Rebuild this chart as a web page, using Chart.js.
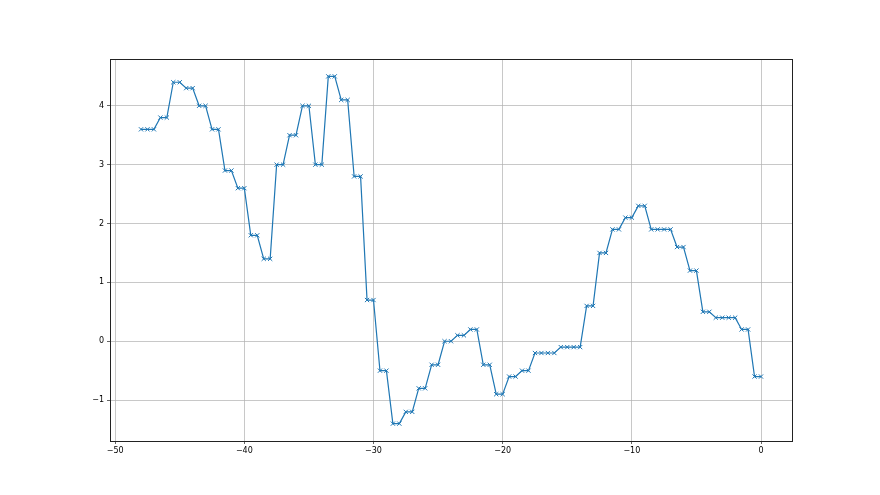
<!DOCTYPE html>
<html>
<head>
<meta charset="utf-8">
<script src="https://cdn.jsdelivr.net/npm/chart.js@4.4.0/dist/chart.umd.min.js"></script>
<style>
html,body{margin:0;padding:0;background:#fff;}
#wrap{width:880px;height:495px;position:relative;}
</style>
</head>
<body>
<div id="wrap"><canvas id="c" width="880" height="495"></canvas></div>
<script>
const xValues = [-48,-47.5,-47,-46.5,-46,-45.5,-45,-44.5,-44,-43.5,-43,-42.5,-42,-41.5,-41,-40.5,-40,-39.5,-39,-38.5,-38,-37.5,-37,-36.5,-36,-35.5,-35,-34.5,-34,-33.5,-33,-32.5,-32,-31.5,-31,-30.5,-30,-29.5,-29,-28.5,-28,-27.5,-27,-26.5,-26,-25.5,-25,-24.5,-24,-23.5,-23,-22.5,-22,-21.5,-21,-20.5,-20,-19.5,-19,-18.5,-18,-17.5,-17,-16.5,-16,-15.5,-15,-14.5,-14,-13.5,-13,-12.5,-12,-11.5,-11,-10.5,-10,-9.5,-9,-8.5,-8,-7.5,-7,-6.5,-6,-5.5,-5,-4.5,-4,-3.5,-3,-2.5,-2,-1.5,-1,-0.5,0];
const yValues = [3.6,3.6,3.6,3.8,3.8,4.4,4.4,4.3,4.3,4.0,4.0,3.6,3.6,2.9,2.9,2.6,2.6,1.8,1.8,1.4,1.4,3.0,3.0,3.5,3.5,4.0,4.0,3.0,3.0,4.5,4.5,4.1,4.1,2.8,2.8,0.7,0.7,-0.5,-0.5,-1.4,-1.4,-1.2,-1.2,-0.8,-0.8,-0.4,-0.4,0.0,0.0,0.1,0.1,0.2,0.2,-0.4,-0.4,-0.9,-0.9,-0.6,-0.6,-0.5,-0.5,-0.2,-0.2,-0.2,-0.2,-0.1,-0.1,-0.1,-0.1,0.6,0.6,1.5,1.5,1.9,1.9,2.1,2.1,2.3,2.3,1.9,1.9,1.9,1.9,1.6,1.6,1.2,1.2,0.5,0.5,0.4,0.4,0.4,0.4,0.2,0.2,-0.6,-0.6];
const xTicks = [-50,-40,-30,-20,-10,0];
const yTicks = [-1,0,1,2,3,4];

const points = xValues.map((x,i)=>({x:x,y:yValues[i]}));
const fmt = v => (v<0 ? '\u2212'+Math.abs(v) : String(v));

const frame = {
  id:'frame',
  afterDraw(chart){
    const a = chart.chartArea, ctx = chart.ctx;
    ctx.save();
    ctx.strokeStyle = '#222';
    ctx.lineWidth = 1;
    ctx.strokeRect(Math.round(a.left)+0.5, Math.round(a.top)+0.5, Math.round(a.right-a.left), Math.round(a.bottom-a.top));
    ctx.restore();
  }
};

new Chart(document.getElementById('c'), {
  type:'scatter',
  data:{datasets:[{
    data:points,
    showLine:true,
    borderColor:'#1f77b4',
    backgroundColor:'#1f77b4',
    borderWidth:1.2,
    pointStyle:'crossRot',
    pointRadius:3,
    pointBorderWidth:1,
    pointBorderColor:'#1f77b4',
    tension:0
  }]},
  options:{
    responsive:false,
    animation:false,
    layout:{padding:{left:0,top:59,right:88,bottom:0}},
    plugins:{legend:{display:false},tooltip:{enabled:false}},
    scales:{
      x:{
        type:'linear', min:-50.4, max:2.4,
        afterBuildTicks(s){ s.ticks = xTicks.map(v=>({value:v})); },
        afterFit(s){ s.height = 54; },
        grid:{color:'#b0b0b0', lineWidth:0.7, tickColor:'#222', tickLength:3, drawTicks:true},
        border:{display:false},
        ticks:{color:'#000', font:{family:'DejaVu Sans', size:8}, padding:2, maxRotation:0, callback:v=>fmt(v)}
      },
      y:{
        type:'linear', min:-1.695, max:4.795,
        afterBuildTicks(s){ s.ticks = yTicks.map(v=>({value:v})); },
        afterFit(s){ s.width = 110; },
        grid:{color:'#b0b0b0', lineWidth:0.7, tickColor:'#222', tickLength:3, drawTicks:true},
        border:{display:false},
        ticks:{color:'#000', font:{family:'DejaVu Sans', size:8}, padding:3, callback:v=>fmt(v)}
      }
    }
  },
  plugins:[frame]
});
</script>
</body>
</html>
